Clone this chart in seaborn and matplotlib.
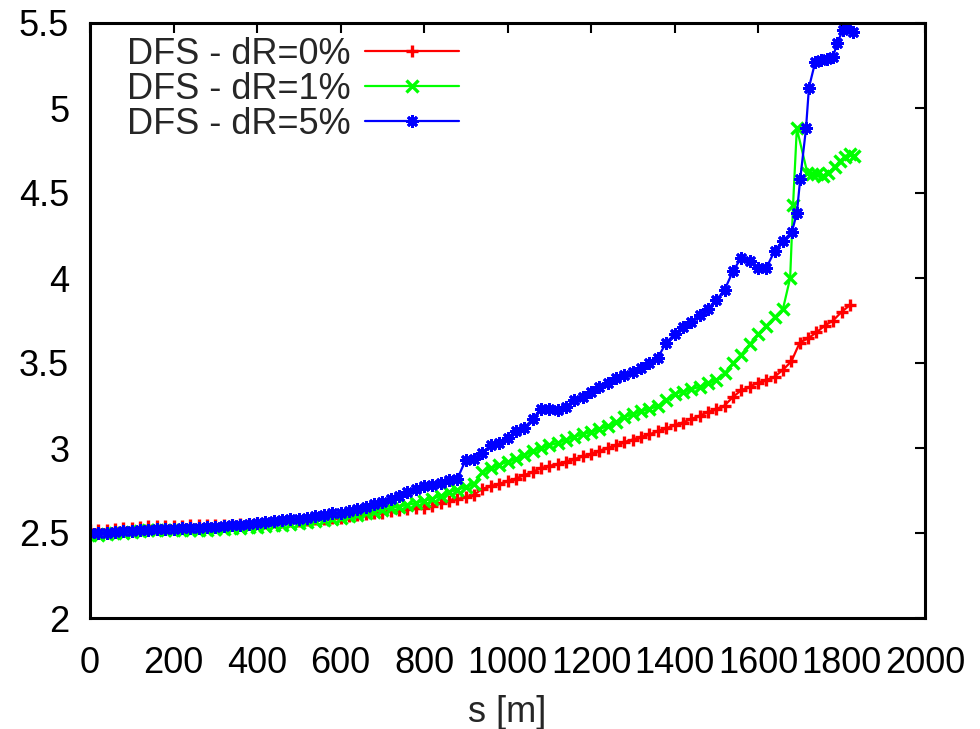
import matplotlib
matplotlib.use("Agg")
import matplotlib.pyplot as plt
from matplotlib.ticker import FuncFormatter
import seaborn as sns

# values
s_red = list(range(0, 1840, 20))
v_red = [2.52, 2.52, 2.52, 2.525, 2.53, 2.53, 2.535, 2.54, 2.54, 2.54,
         2.54, 2.54, 2.545, 2.545, 2.545, 2.55, 2.55, 2.55, 2.555, 2.555,
         2.56, 2.56, 2.565, 2.565, 2.57, 2.57, 2.575, 2.58, 2.585, 2.59,
         2.59, 2.60, 2.605, 2.61, 2.615, 2.62, 2.63, 2.635, 2.64, 2.645,
         2.65, 2.66, 2.675, 2.69, 2.70, 2.71, 2.725, 2.76, 2.775, 2.79,
         2.805, 2.82, 2.84, 2.86, 2.88, 2.895, 2.905, 2.92, 2.935, 2.95,
         2.965, 2.985, 3.00, 3.015, 3.035, 3.05, 3.065, 3.08, 3.10, 3.115,
         3.135, 3.15, 3.17, 3.19, 3.21, 3.23, 3.25, 3.30, 3.34, 3.36,
         3.385, 3.40, 3.42, 3.46, 3.51, 3.62, 3.645, 3.68, 3.72, 3.75,
         3.80, 3.84]

s_green = list(range(0, 1680, 20)) + [1677, 1684, 1693, 1718, 1730, 1742, 1755,
                                       1768, 1784, 1796, 1808, 1820, 1830]
v_green = [2.49, 2.49, 2.495, 2.50, 2.50, 2.505, 2.51, 2.515, 2.515, 2.515,
           2.515, 2.52, 2.52, 2.52, 2.52, 2.525, 2.525, 2.53, 2.53, 2.535,
           2.535, 2.54, 2.545, 2.55, 2.555, 2.56, 2.565, 2.57, 2.575, 2.585,
           2.59, 2.60, 2.605, 2.615, 2.625, 2.635, 2.645, 2.655, 2.665, 2.675,
           2.69, 2.70, 2.72, 2.74, 2.755, 2.77, 2.79, 2.86, 2.88, 2.90,
           2.92, 2.935, 2.96, 2.98, 3.00, 3.015, 3.03, 3.05, 3.065, 3.08,
           3.095, 3.11, 3.13, 3.155, 3.18, 3.20, 3.215, 3.23, 3.245, 3.28,
           3.32, 3.33, 3.345, 3.36, 3.38, 3.40, 3.44, 3.50, 3.55, 3.61,
           3.67, 3.72, 3.77, 3.82,
           4.00, 4.43, 4.88, 4.62, 4.61, 4.61, 4.60, 4.62, 4.65, 4.69,
           4.71, 4.73, 4.72]

s_blue = list(range(0, 1680, 20)) + [1681, 1693, 1701, 1715, 1722, 1737, 1750,
                                      1765, 1780, 1789, 1804, 1813, 1828]
v_blue = [2.50, 2.50, 2.50, 2.505, 2.51, 2.51, 2.515, 2.52, 2.525, 2.525,
          2.525, 2.53, 2.53, 2.53, 2.535, 2.535, 2.54, 2.545, 2.55, 2.555,
          2.56, 2.565, 2.57, 2.575, 2.58, 2.585, 2.59, 2.60, 2.605, 2.615,
          2.62, 2.63, 2.64, 2.655, 2.67, 2.685, 2.70, 2.72, 2.74, 2.76,
          2.775, 2.785, 2.795, 2.81, 2.82, 2.93, 2.935, 2.97, 3.02, 3.03,
          3.06, 3.10, 3.12, 3.17, 3.23, 3.23, 3.225, 3.24, 3.28, 3.30,
          3.33, 3.36, 3.38, 3.41, 3.43, 3.45, 3.47, 3.50, 3.53, 3.62,
          3.67, 3.71, 3.74, 3.78, 3.82, 3.87, 3.93, 4.04, 4.12, 4.10,
          4.06, 4.06, 4.16, 4.22,
          4.27, 4.38, 4.58, 4.88, 5.12, 5.27, 5.28, 5.29, 5.30, 5.38,
          5.46, 5.50, 5.45]

labels = ["DFS - dR=0%", "DFS - dR=1%", "DFS - dR=5%"]
colors = ["#ff0000", "#00ff00", "#0000ff"]
markers = ["+", "x", (8, 2, 0)]
edge_widths = [2.4, 2.4, 2.0]

sns.set_style("white")
plt.rcParams["font.family"] = ["Liberation Sans", "DejaVu Sans"]
plt.rcParams["font.size"] = 26

fig = plt.figure(figsize=(9.8, 7.29), dpi=100)
ax = fig.add_axes([90 / 980, 111 / 729, 835 / 980, 595 / 729])

series = [(s_red, v_red), (s_green, v_green), (s_blue, v_blue)]
for (xs, ys), lab, col, mk, mew in zip(series, labels, colors, markers, edge_widths):
    sns.lineplot(x=xs, y=ys, ax=ax, color=col, label=lab, linewidth=1.6,
                 marker=mk, markersize=9, markeredgewidth=mew,
                 markeredgecolor=col, markerfacecolor=col)

ax.set_xlim(0, 2000)
ax.set_ylim(2, 5.5)
ax.set_xticks(range(0, 2001, 200))
ax.set_yticks([2, 2.5, 3, 3.5, 4, 4.5, 5, 5.5])
ax.yaxis.set_major_formatter(FuncFormatter(lambda v, p: "%g" % v))
ax.tick_params(direction="in", length=7, width=1.5, top=True, right=True,
               labelsize=26, colors="black")
ax.tick_params(axis="y", pad=15)
ax.tick_params(axis="x", pad=20)
for sp in ax.spines.values():
    sp.set_visible(True)
    sp.set_color("black")
    sp.set_linewidth(2.2)
ax.set_xlabel("s [m]", fontsize=26, labelpad=10)
ax.set_ylabel("")

leg = ax.legend(loc="upper left", bbox_to_anchor=(0.044, 0.977), frameon=False,
                markerfirst=False, handlelength=2.6, handletextpad=0.4,
                labelspacing=0.0, fontsize=26, numpoints=1,
                borderpad=0, borderaxespad=0)

fig.savefig("out.png", dpi=100)
